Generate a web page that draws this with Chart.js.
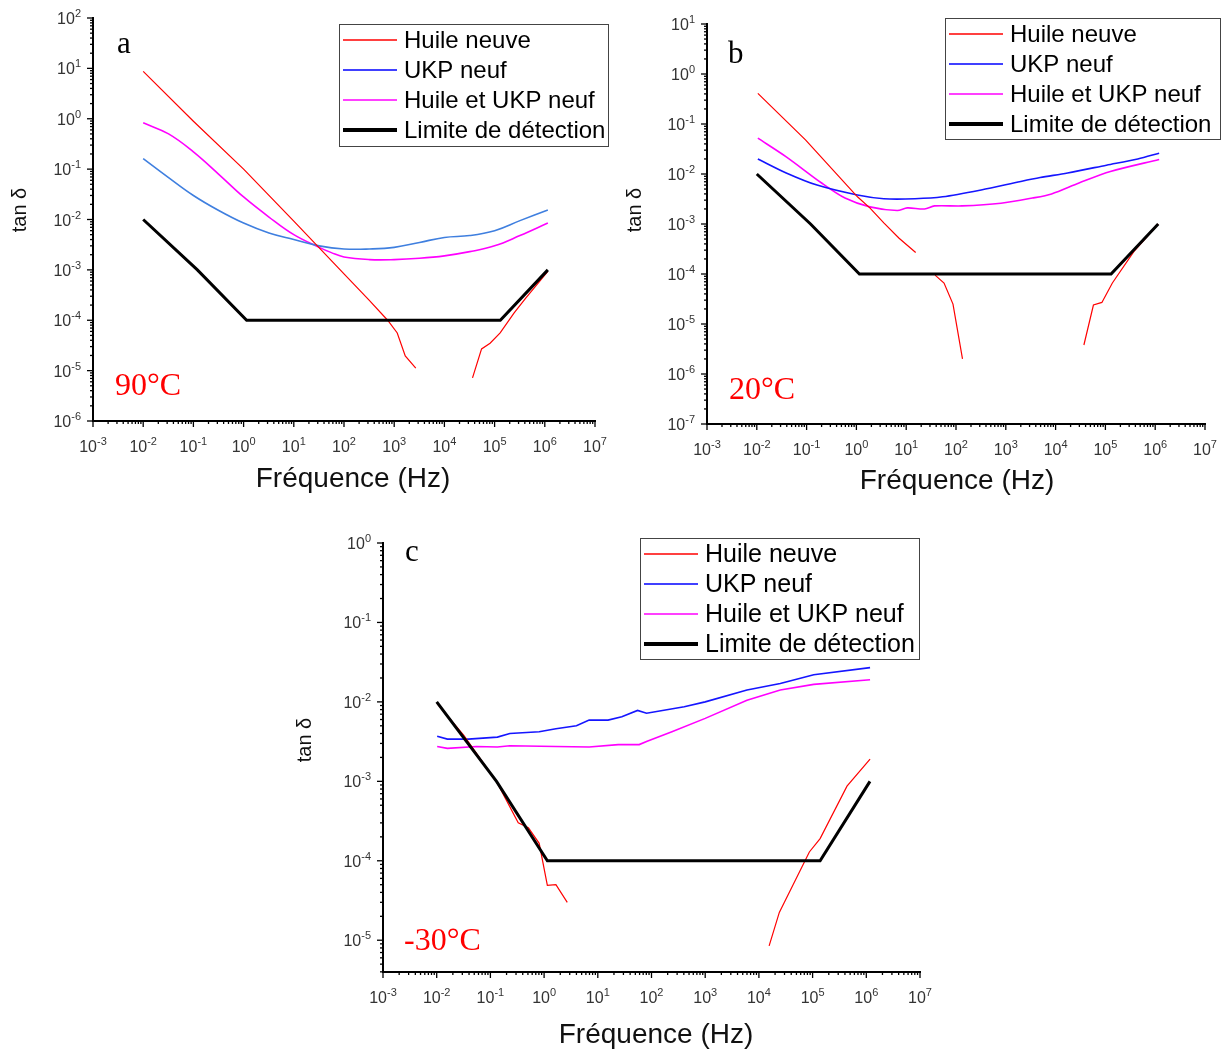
<!DOCTYPE html>
<html>
<head>
<meta charset="utf-8">
<script src="https://cdn.jsdelivr.net/npm/chart.js@4.4.1/dist/chart.umd.min.js"></script>
<style>
  body { margin: 0; background: #fff; width: 1222px; height: 1050px; position: relative; overflow: hidden; }
  canvas { position: absolute; }
</style>
</head>
<body>
<canvas id="chartA" width="610" height="500" style="left:0;top:0"></canvas>
<canvas id="chartB" width="612" height="500" style="left:610px;top:0"></canvas>
<canvas id="chartC" width="650" height="530" style="left:290px;top:520px"></canvas>
<script>
var labels = ['Huile neuve', 'UKP neuf', 'Huile et UKP neuf', 'Limite de détection'];

// a - 90°C
var fA_huile = [0.01, 0.1, 1, 10, 100, 316, 740, 1150, 1660, 2690, 10000, 36300, 55000, 81300, 129000, 245000, 417000, 1150000];
var tA_huile = [8.7, 0.89, 0.1, 0.0093, 0.00083, 0.00025, 0.0001, 5.6e-5, 1.95e-5, 1.12e-5, null, 7.2e-6, 2.7e-5, 3.5e-5, 5.6e-5, 1.4e-4, 2.75e-4, 9.3e-4];
var fA_ukp = [0.01, 0.032, 0.1, 0.32, 1, 3.2, 10, 32, 100, 320, 1000, 3200, 10000, 32000, 100000, 320000, 1150000];
var tA_ukp = [0.162, 0.068, 0.030, 0.0151, 0.0085, 0.0054, 0.0040, 0.0030, 0.0026, 0.0026, 0.0028, 0.0035, 0.0044, 0.0048, 0.006, 0.0095, 0.0155];
var fA_mix = [0.01, 0.032, 0.1, 0.32, 1, 3.2, 10, 32, 56, 100, 320, 1000, 3200, 10000, 32000, 100000, 320000, 1150000];
var tA_mix = [0.83, 0.5, 0.22, 0.079, 0.028, 0.0112, 0.005, 0.0028, 0.0022, 0.0018, 0.0016, 0.0016, 0.0017, 0.0019, 0.0023, 0.003, 0.0048, 0.0085];
var fA_lim = [0.01, 0.12, 1.15, 130000, 1150000];
var tA_lim = [0.01, 0.001, 0.0001, 0.0001, 0.001];

// b - 20°C
var fB_huile = [0.0105, 0.095, 1.05, 1.86, 3.55, 7.2, 15.5, 25, 38, 57.5, 87, 135, 1000, 37000, 57500, 85000, 138000, 372000, 1150000];
var tB_huile = [0.41, 0.048, 0.0035, 0.0021, 0.00105, 0.00052, 0.00027, null, 9.5e-5, 6.6e-5, 2.5e-5, 2.0e-6, null, 3.8e-6, 2.4e-5, 2.7e-5, 6.6e-5, 2.8e-4, 1.0e-3];
var fB_ukp = [0.0105, 0.039, 0.162, 1.05, 3.55, 15, 54, 320, 2000, 4900, 17400, 105000, 447000, 1200000];
var tB_ukp = [0.020, 0.0105, 0.006, 0.0038, 0.0032, 0.0032, 0.0035, 0.0048, 0.0071, 0.0085, 0.0105, 0.015, 0.020, 0.026];
var fB_mix = [0.0105, 0.039, 0.2, 0.59, 1.86, 6.6, 10.5, 23.4, 37, 132, 800, 3400, 8300, 29500, 126000, 1200000];
var tB_mix = [0.052, 0.022, 0.0066, 0.0033, 0.0022, 0.00186, 0.0021, 0.002, 0.0023, 0.0023, 0.0026, 0.0033, 0.004, 0.0066, 0.0112, 0.0195];
var fB_lim = [0.01, 0.12, 1.15, 130000, 1150000];
var tB_lim = [0.01, 0.001, 0.0001, 0.0001, 0.001];

// c - -30°C
var fC_huile = [0.0102, 0.032, 0.135, 0.33, 0.51, 0.81, 1.15, 1.66, 2.7, 100, 15500, 24000, 87000, 138000, 437000, 1175000];
var tC_huile = [0.0095, 0.0038, 0.00095, 0.0003, 0.00026, 0.000166, 4.9e-5, 5.0e-5, 3.0e-5, null, 8.5e-6, 2.24e-5, 1.29e-4, 1.9e-4, 8.7e-4, 1.9e-3];
var fC_ukp = [0.0102, 0.0158, 0.039, 0.135, 0.23, 0.81, 1.66, 4.0, 6.9, 15.5, 28, 55, 81, 407, 1000, 6000, 25000, 105000, 1175000];
var tC_ukp = [0.0037, 0.0034, 0.0034, 0.0036, 0.004, 0.0042, 0.0046, 0.005, 0.0059, 0.0059, 0.0065, 0.0078, 0.0072, 0.0087, 0.010, 0.0141, 0.017, 0.022, 0.027];
var fC_mix = [0.0102, 0.0158, 0.055, 0.135, 0.23, 1.66, 6.9, 24, 59, 83, 240, 1000, 6000, 25000, 105000, 1175000];
var tC_mix = [0.00275, 0.0026, 0.00275, 0.0027, 0.0028, 0.00275, 0.0027, 0.0029, 0.0029, 0.0032, 0.0042, 0.0062, 0.0105, 0.0141, 0.0166, 0.019];
var fC_lim = [0.01, 0.13, 1.15, 138000, 1170000];
var tC_lim = [0.01, 0.001, 0.0001, 0.0001, 0.001];

var SANS = '"Liberation Sans", Arial, sans-serif';
var SERIF = '"Liberation Serif", "Times New Roman", serif';

function pts(f, t) {
  return f.map(function (x, i) { return { x: x, y: t[i] }; });
}

function logTicks(min, max) {
  var out = [];
  for (var k = Math.floor(Math.log10(min)); k <= Math.ceil(Math.log10(max)); k++) {
    for (var m = 1; m <= 9; m++) {
      var v = m * Math.pow(10, k);
      if (v >= min * 0.999 && v <= max * 1.001) out.push({ v: v, major: m === 1, exp: k });
    }
  }
  return out;
}

function powLabel(ctx, exp, x, y, align) {
  ctx.font = '16px ' + SANS;
  var w1 = ctx.measureText('10').width;
  ctx.font = '11px ' + SANS;
  var w2 = ctx.measureText(String(exp)).width;
  var x0 = align === 'right' ? x - w1 - w2 : x - (w1 + w2) / 2;
  ctx.textAlign = 'left';
  ctx.textBaseline = 'alphabetic';
  ctx.font = '16px ' + SANS;
  ctx.fillText('10', x0, y);
  ctx.font = '11px ' + SANS;
  ctx.fillText(String(exp), x0 + w1, y - 7);
}

var decoPlugin = {
  id: 'deco',
  afterDraw: function (chart) {
    var o = chart.options.plugins.deco;
    var ctx = chart.ctx, xs = chart.scales.x, ys = chart.scales.y, a = chart.chartArea;
    ctx.save();
    ctx.strokeStyle = '#000';
    ctx.fillStyle = '#333';
    ctx.lineWidth = 1.3;
    logTicks(xs.min, xs.max).forEach(function (t) {
      var px = xs.getPixelForValue(t.v);
      ctx.beginPath();
      ctx.moveTo(px, a.bottom);
      ctx.lineTo(px, a.bottom + (t.major ? 6 : 3));
      ctx.stroke();
      if (t.major) powLabel(ctx, t.exp, px, a.bottom + 31, 'center');
    });
    logTicks(ys.min, ys.max).forEach(function (t) {
      var py = ys.getPixelForValue(t.v);
      ctx.beginPath();
      ctx.moveTo(a.left, py);
      ctx.lineTo(a.left - (t.major ? 6 : 3), py);
      ctx.stroke();
      if (t.major) powLabel(ctx, t.exp, a.left - 12, py + 6, 'right');
    });

    // axis titles
    ctx.fillStyle = '#111';
    ctx.font = '28px ' + SANS;
    ctx.textAlign = 'center';
    ctx.fillText('Fréquence (Hz)', o.titleX, o.titleY);
    ctx.save();
    ctx.translate(o.yTitleX, o.yTitleY);
    ctx.rotate(-Math.PI / 2);
    ctx.font = '20px ' + SANS;
    ctx.textBaseline = 'middle';
    ctx.fillText('tan δ', 0, 0);
    ctx.restore();

    // panel letter and temperature
    ctx.textAlign = 'left';
    ctx.textBaseline = 'alphabetic';
    ctx.fillStyle = '#000';
    ctx.font = '31px ' + SERIF;
    ctx.fillText(o.letter, o.letterX, o.letterY);
    ctx.fillStyle = '#ff0000';
    ctx.font = '32px ' + SERIF;
    ctx.fillText(o.temp, o.tempX, o.tempY);

    // legend
    var L = o.legend;
    ctx.fillStyle = '#fff';
    ctx.fillRect(L.x, L.y, L.w, L.h);
    ctx.strokeStyle = '#444';
    ctx.lineWidth = 1;
    ctx.strokeRect(L.x + 0.5, L.y + 0.5, L.w, L.h);
    chart.data.datasets.forEach(function (ds, i) {
      var yy = L.y + 16 + i * 30;
      ctx.strokeStyle = ds.legendColor || ds.borderColor;
      ctx.lineWidth = ds.borderWidth >= 3 ? 4 : 1.6;
      ctx.beginPath();
      ctx.moveTo(L.x + 4, yy);
      ctx.lineTo(L.x + 58, yy);
      ctx.stroke();
      ctx.fillStyle = '#000';
      ctx.font = L.font + 'px ' + SANS;
      ctx.textBaseline = 'middle';
      ctx.fillText(ds.label, L.x + 65, yy + 1);
    });
    ctx.restore();
  }
};

function makeChart(id, series, blue, smooth, yMin, yMax, pad, deco) {
  var colors = ['#ff0000', blue, '#ff00ff', '#000000'];
  var widths = [1.2, 1.6, 1.6, 3];
  var datasets = series.map(function (s, i) {
    return {
      label: labels[i],
      data: pts(s[0], s[1]),
      borderColor: colors[i],
      legendColor: i === 1 ? '#0000ff' : colors[i],
      borderWidth: widths[i],
      pointRadius: 0,
      fill: false,
      spanGaps: false,
      tension: (i === 1 || i === 2) ? smooth : 0,
      order: i === 3 ? 0 : 1
    };
  });
  var axisCommon = {
    type: 'logarithmic',
    grid: { display: false, drawTicks: false },
    border: { display: true, color: '#000', width: 2 },
    ticks: { display: false }
  };
  return new Chart(document.getElementById(id).getContext('2d'), {
    type: 'line',
    data: { datasets: datasets },
    options: {
      responsive: false,
      animation: false,
      layout: { padding: pad },
      scales: {
        x: Object.assign({}, axisCommon, { min: 1e-3, max: 1e7 }),
        y: Object.assign({}, axisCommon, { min: yMin, max: yMax })
      },
      plugins: { legend: { display: false }, tooltip: { enabled: false }, deco: deco }
    },
    plugins: [decoPlugin]
  });
}

makeChart('chartA',
  [[fA_huile, tA_huile], [fA_ukp, tA_ukp], [fA_mix, tA_mix], [fA_lim, tA_lim]],
  '#3f7fdf', 0.4, 1e-6, 1e2,
  { left: 93, right: 15, top: 18, bottom: 79 },
  { letter: 'a', letterX: 117, letterY: 53, temp: '90°C', tempX: 115, tempY: 395,
    titleX: 353, titleY: 487, yTitleX: 20, yTitleY: 210,
    legend: { x: 339, y: 24, w: 269, h: 122, font: 24 } });

makeChart('chartB',
  [[fB_huile, tB_huile], [fB_ukp, tB_ukp], [fB_mix, tB_mix], [fB_lim, tB_lim]],
  '#1515ff', 0.3, 1e-7, 1e1,
  { left: 97, right: 17, top: 24, bottom: 76 },
  { letter: 'b', letterX: 118, letterY: 63, temp: '20°C', tempX: 119, tempY: 399,
    titleX: 347, titleY: 489, yTitleX: 25, yTitleY: 210,
    legend: { x: 335, y: 18, w: 275, h: 121, font: 24 } });

makeChart('chartC',
  [[fC_huile, tC_huile], [fC_ukp, tC_ukp], [fC_mix, tC_mix], [fC_lim, tC_lim]],
  '#1515ff', 0, Math.pow(10, -5.4), 1,
  { left: 93, right: 20, top: 23, bottom: 78 },
  { letter: 'c', letterX: 115, letterY: 41, temp: '-30°C', tempX: 114, tempY: 430,
    titleX: 366, titleY: 523, yTitleX: 15, yTitleY: 220,
    legend: { x: 350, y: 18, w: 279, h: 121, font: 25 } });
</script>
</body>
</html>
